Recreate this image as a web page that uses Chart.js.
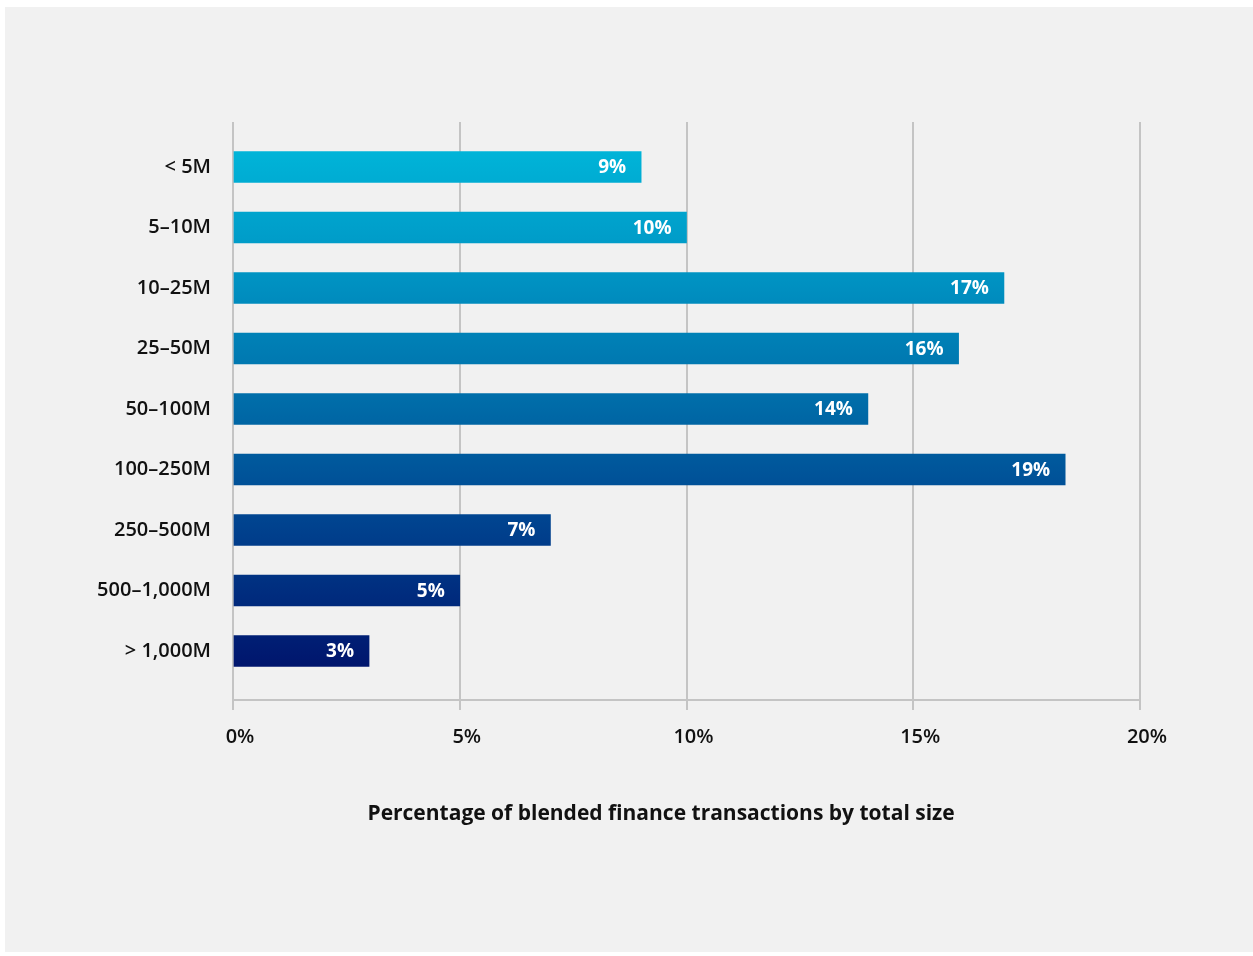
<!DOCTYPE html>
<html>
<head>
<meta charset="utf-8">
<script src="https://cdn.jsdelivr.net/npm/chart.js@4.4.1/dist/chart.umd.min.js"></script>
<style>
  html, body { margin: 0; padding: 0; background: #ffffff; }
  #panel {
    position: absolute; left: 5px; top: 7px;
    width: 1248px; height: 945px; background: #f1f1f1;
  }
  canvas { display: block; }
</style>
</head>
<body>
<div id="panel"><canvas id="chart" width="1248" height="945"></canvas></div>
<script>
// chart data
const sizeBands = ['< 5M', '5\u201310M', '10\u201325M', '25\u201350M', '50\u2013100M',
  '100\u2013250M', '250\u2013500M', '500\u20131,000M', '> 1,000M'];
// bar lengths as drawn in the picture
const shares = [9, 10, 17, 16, 14, 18.35, 7, 5, 3];
// labels printed in the bars
const shareLabels = ['9%', '10%', '17%', '16%', '14%', '19%', '7%', '5%', '3%'];
const xTicks = [0, 5, 10, 15, 20];
const axisTitle = 'Percentage of blended finance transactions by total size';

const FONT = '"Open Sans", "Noto Sans", sans-serif';
const GRID = '#c4c4c4';

// labels drawn inside the end of each bar
const barLabels = {
  id: 'barLabels',
  afterDatasetsDraw(chart) {
    const ctx = chart.ctx;
    const meta = chart.getDatasetMeta(0);
    ctx.save();
    ctx.fillStyle = '#ffffff';
    ctx.font = '700 19px ' + FONT;
    ctx.textAlign = 'right';
    ctx.textBaseline = 'middle';
    meta.data.forEach((bar, i) => {
      ctx.fillText(shareLabels[i], bar.x - 15, bar.y + 1);
    });
    ctx.restore();
  }
};

// axis title under the tick labels (sits a little left of the plot centre)
const axisTitlePlugin = {
  id: 'axisTitle',
  afterDraw(chart) {
    const ctx = chart.ctx;
    const x = chart.scales.x;
    ctx.save();
    ctx.fillStyle = '#111111';
    ctx.font = '700 21px ' + FONT;
    ctx.textAlign = 'center';
    ctx.textBaseline = 'middle';
    ctx.fillText(axisTitle, x.getPixelForValue(9.44), chart.chartArea.bottom + 114);
    ctx.restore();
  }
};

const barGradient = (context) => {
  const chart = context.chart;
  const y = chart.scales.y;
  if (!chart.chartArea || !y) return '#0068a6';
  const top = y.getPixelForValue(0) - 16;
  const bottom = y.getPixelForValue(sizeBands.length - 1) + 16;
  const g = chart.ctx.createLinearGradient(0, top, 0, bottom);
  g.addColorStop(0, '#00b4d8');
  g.addColorStop(0.25, '#0092c2');
  g.addColorStop(0.5, '#006aa7');
  g.addColorStop(0.72, '#00438f');
  g.addColorStop(1, '#00156d');
  return g;
};

new Chart(document.getElementById('chart'), {
  type: 'bar',
  data: {
    datasets: [{
      data: shares.map((v, i) => ({ x: v, y: i })),
      backgroundColor: barGradient,
      borderWidth: 0,
      barThickness: 31,
    }],
  },
  options: {
    indexAxis: 'y',
    responsive: false,
    animation: false,
    layout: { padding: { left: 28, right: 113, top: 115, bottom: 190 } },
    plugins: {
      legend: { display: false },
      tooltip: { enabled: false },
    },
    scales: {
      x: {
        type: 'linear',
        min: xTicks[0],
        max: xTicks[xTicks.length - 1],
        afterBuildTicks: (axis) => { axis.ticks = xTicks.map((v) => ({ value: v })); },
        afterFit: (axis) => { axis.height = 62; },
        grid: { color: GRID, lineWidth: 2, tickLength: 10, tickColor: GRID },
        border: { display: true, color: GRID, width: 2 },
        ticks: {
          callback: (v) => v + '%',
          color: '#111111',
          font: { family: FONT, size: 20, weight: '600' },
          padding: 15,
          labelOffset: 7,
          maxRotation: 0,
        },
      },
      y: {
        type: 'linear',
        reverse: true,
        offset: false,
        min: -0.744,
        max: 8.81,
        afterBuildTicks: (axis) => { axis.ticks = sizeBands.map((_, i) => ({ value: i })); },
        afterFit: (axis) => { axis.width = 200; },
        grid: { display: false },
        border: { display: false },
        ticks: {
          callback: (v) => sizeBands[v],
          color: '#111111',
          font: { family: FONT, size: 20, weight: '600' },
          padding: 14,
        },
      },
    },
  },
  plugins: [barLabels, axisTitlePlugin],
});
</script>
</body>
</html>
